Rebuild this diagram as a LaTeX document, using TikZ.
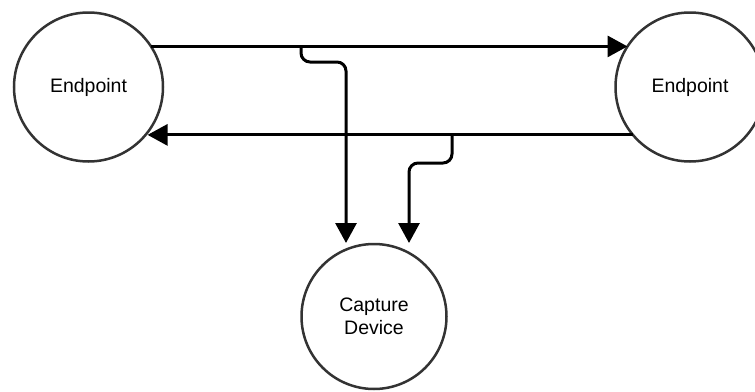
\documentclass[tikz,border=0pt]{standalone}
\usepackage{fontspec}
\setmainfont{Liberation Sans}
\usetikzlibrary{arrows.meta}
\begin{document}
\begin{tikzpicture}[x=1pt,y=-1pt,
  ep/.style={circle,draw=black!80,line width=2.5pt,minimum size=149pt,inner sep=0pt,outer sep=0pt,
    font=\fontsize{19.5}{22.5}\selectfont,align=center},
  conn/.style={line width=3pt,draw=black,line join=round},
  arrowtip/.style={-{Triangle[length=20pt,width=21pt]}},
  roundbend/.style={rounded corners=9pt}]
\useasboundingbox (0,0) rectangle (755,391);
\node[ep] (L) at (88.5,87) {Endpoint};
\node[ep] (R) at (690,87) {Endpoint};
\node[ep,minimum size=145pt] (C) at (374,316.5) {Capture\\Device};
\coordinate (t1) at (L.33);
\coordinate (t2) at (R.147 |- t1);
\coordinate (b1) at (R.220);
\coordinate (b2) at ([xshift=2pt]L.-40 |- b1);
\draw[conn,arrowtip] (t1) -- (t2);
\draw[conn,arrowtip] (b1) -- (b2);
\coordinate (j1) at (301,45.7);
\coordinate (j2) at (452,135);
\coordinate (a1) at (346,243);
\coordinate (a2) at (409,243);
\draw[conn,arrowtip,roundbend] (j1 |- t1) -- (301,62) -- (346,62) -- (a1);
\draw[conn,arrowtip,roundbend] (j2 |- b1) -- (452,163) -- (409,163) -- (a2);
\end{tikzpicture}
\end{document}
